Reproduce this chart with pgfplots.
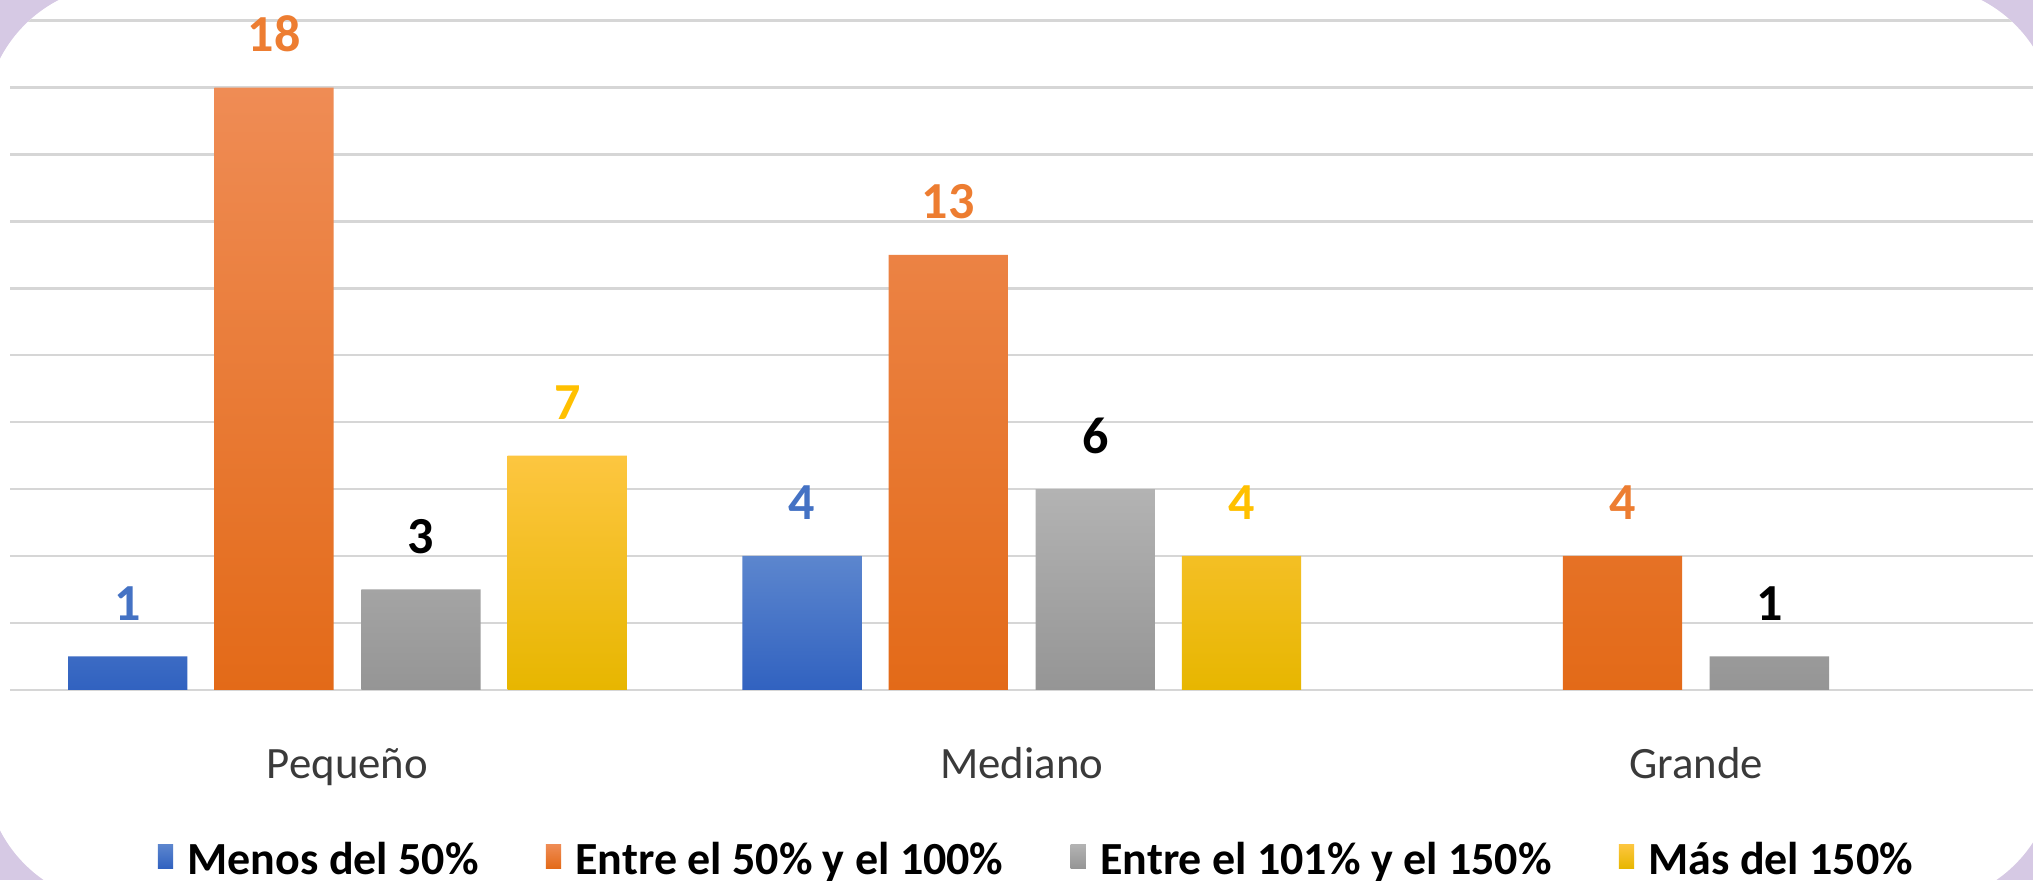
\documentclass[border=0pt]{standalone}
\usepackage{pgfplots}
\pgfplotsset{compat=1.18}
\usepackage{fontspec}
\setmainfont{Carlito}
\definecolor{bgpurple}{HTML}{D6C9E4}
\definecolor{gridgray}{HTML}{D6D6D6}
\definecolor{labgray}{HTML}{3A3A3A}
\definecolor{bluetop}{HTML}{5C86CE}
\definecolor{bluebot}{HTML}{3162C0}
\definecolor{orgtop}{HTML}{EF8C55}
\definecolor{orgbot}{HTML}{E36A18}
\definecolor{graytop}{HTML}{B3B3B3}
\definecolor{graybot}{HTML}{959595}
\definecolor{yeltop}{HTML}{FDC640}
\definecolor{yelbot}{HTML}{E7B600}
\definecolor{lblue}{HTML}{4472C4}
\definecolor{lorange}{HTML}{ED7D31}
\definecolor{lyellow}{HTML}{FFC000}
\begin{document}
\begin{tikzpicture}
\useasboundingbox (-2.6pt,-47.55pt) rectangle (505.65pt,172.45pt);
\clip (-2.6pt,-47.55pt) rectangle (505.65pt,172.45pt);
\fill[bgpurple] (-2.6pt,-47.55pt) rectangle (505.65pt,172.45pt);
\fill[white, rounded corners=34pt] (-6.35pt,-53.55pt) rectangle (511.15pt,176.2pt);
\begin{scope}
\clip[rounded corners=34pt] (-6.35pt,-53.55pt) rectangle (511.15pt,176.2pt);
\begin{axis}[
  scale only axis,
  width=505.65pt, height=167.28pt,
  xmin=-0.5, xmax=2.5, ymin=0, ymax=20,
  clip=false,
  /pgf/number format/assume math mode=true,
  axis line style={draw=none},
  tick style={draw=none},
  ytick={0,2,...,20}, yticklabels={},
  ymajorgrids,
  major grid style={line width=0.6pt, color=gridgray},
  xtick={0,1,2},
  xticklabels={Pequeño, Mediano, Grande},
  xticklabel style={font=\fontsize{11.2}{12}\selectfont, text=labgray, anchor=base, yshift=-18pt, inner sep=0pt},
  ybar,
  bar width=0.177,
  nodes near coords,
  every node near coord/.append style={font=\fontsize{13}{13}\selectfont\bfseries, anchor=base, yshift=9pt, inner sep=0pt},
  legend columns=4,
  legend style={at={(0.5088,-0.256)}, anchor=center, draw=none, fill=none,
    font=\fontsize{11.5}{12}\selectfont\bfseries,
    /tikz/every odd column/.append style={column sep=1.6pt},
    /tikz/every even column/.append style={column sep=14.8pt}},
  legend image code/.code={\fill[#1] (0pt,-1.8pt) rectangle (3.8pt,4.2pt);},
]
\addplot[draw=none, top color=bluetop, bottom color=bluebot, bar shift=-0.326,
  every node near coord/.append style={text=lblue}]
  coordinates {(0,1) (1,4)};
\addplot[draw=none, top color=orgtop, bottom color=orgbot, bar shift=-0.109,
  every node near coord/.append style={text=lorange}]
  coordinates {(0,18) (1,13) (2,4)};
\addplot[draw=none, top color=graytop, bottom color=graybot, bar shift=0.109,
  every node near coord/.append style={text=black}]
  coordinates {(0,3) (1,6) (2,1)};
\addplot[draw=none, top color=yeltop, bottom color=yelbot, bar shift=0.326,
  every node near coord/.append style={text=lyellow}]
  coordinates {(0,7) (1,4)};
\legend{Menos del 50\%, Entre el 50\% y el 100\%, Entre el 101\% y el 150\%, Más del 150\%}
\end{axis}
\end{scope}
\end{tikzpicture}
\end{document}
